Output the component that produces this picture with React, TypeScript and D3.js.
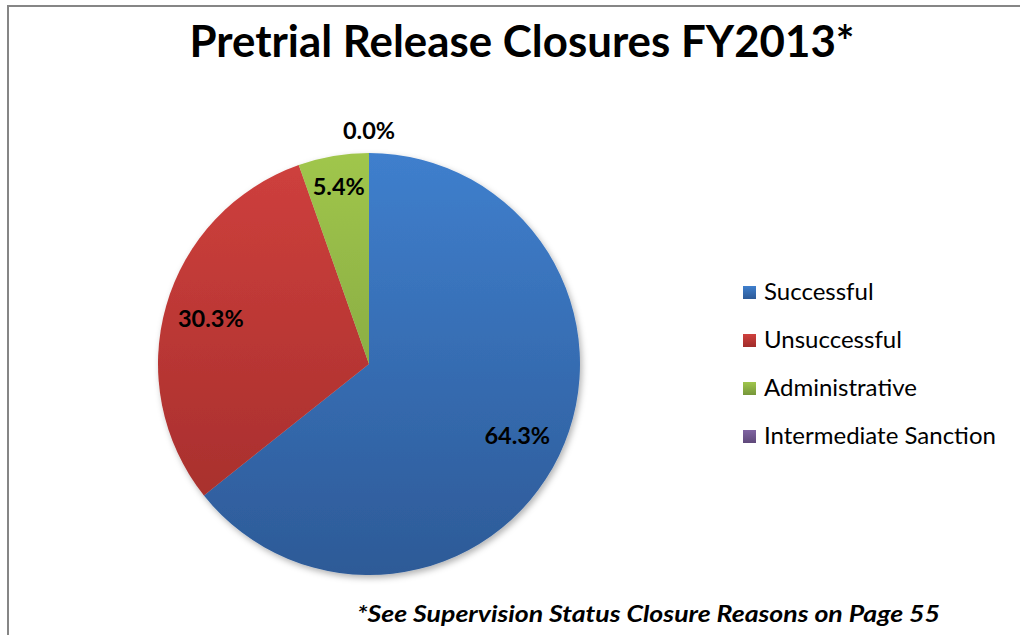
import * as React from 'react'
import * as d3 from 'd3'

const categories = ['Successful', 'Unsuccessful', 'Administrative', 'Intermediate Sanction']
const values = [64.3, 30.3, 5.4, 0.0]
const colorsTop = ['#3f7fcd', '#cf403d', '#a0c64c', '#8064a2']
const colorsBottom = ['#2d5a97', '#a02c2a', '#76963a', '#5f497a']

const W = 1020
const H = 635
const FONT = 'Lato, "Open Sans", sans-serif'

export default function App() {
  const ref = React.useRef<SVGSVGElement>(null)

  React.useEffect(() => {
    document.body.style.margin = '0'
    const svg = d3.select(ref.current)
    svg.selectAll('*').remove()

    const cx = 369
    const cy = 364
    const r = 211

    const defs = svg.append('defs')
    const addGrad = (id: string, i: number, user: boolean) => {
      const gr = defs.append('linearGradient').attr('id', id)
      if (user) {
        gr.attr('gradientUnits', 'userSpaceOnUse').attr('x1', 0).attr('y1', -r).attr('x2', 0).attr('y2', r)
      } else {
        gr.attr('x1', 0).attr('y1', 0).attr('x2', 0).attr('y2', 1)
      }
      gr.append('stop').attr('offset', '0%').attr('stop-color', colorsTop[i])
      gr.append('stop').attr('offset', '100%').attr('stop-color', colorsBottom[i])
    }
    categories.forEach((c, i) => {
      addGrad(`gpie${i}`, i, true)
      addGrad(`gleg${i}`, i, false)
    })

    const f = defs
      .append('filter')
      .attr('id', 'shadow')
      .attr('x', '-10%')
      .attr('y', '-10%')
      .attr('width', '120%')
      .attr('height', '120%')
    f.append('feDropShadow')
      .attr('dx', 2)
      .attr('dy', 3)
      .attr('stdDeviation', 3)
      .attr('flood-color', '#000')
      .attr('flood-opacity', 0.3)

    // frame (right and bottom edges run off the page)
    svg
      .append('rect')
      .attr('x', 8)
      .attr('y', 6)
      .attr('width', W + 20)
      .attr('height', H + 20)
      .attr('fill', '#fff')
      .attr('stroke', '#868686')
      .attr('stroke-width', 2)

    svg
      .append('text')
      .attr('x', 522)
      .attr('y', 57)
      .attr('text-anchor', 'middle')
      .attr('font-family', FONT)
      .attr('font-weight', 'bold')
      .attr('font-size', 44)
      .attr('textLength', 665)
      .attr('lengthAdjust', 'spacingAndGlyphs')
      .attr('fill', '#000')
      .text('Pretrial Release Closures FY2013*')

    const pie = d3
      .pie<number>()
      .sort(null)
      .value((d) => d)
    const arcs = pie(values)
    const arc = d3.arc<d3.PieArcDatum<number>>().innerRadius(0).outerRadius(r)

    const g = svg.append('g').attr('transform', `translate(${cx},${cy})`)
    g.append('g')
      .attr('filter', 'url(#shadow)')
      .selectAll('path')
      .data(arcs)
      .enter()
      .append('path')
      .attr('d', arc)
      .attr('fill', (d, i) => `url(#gpie${i})`)

    const labelPos = (d: d3.PieArcDatum<number>) => {
      const a = (d.startAngle + d.endAngle) / 2
      const frac = (d.endAngle - d.startAngle) / (2 * Math.PI)
      const lr = d.value === 0 ? r + 22 : frac < 0.1 ? r * 0.85 : r * 0.78
      return [lr * Math.sin(a), -lr * Math.cos(a)]
    }

    g.selectAll('text.lbl')
      .data(arcs)
      .enter()
      .append('text')
      .attr('class', 'lbl')
      .attr('x', (d) => labelPos(d)[0])
      .attr('y', (d) => labelPos(d)[1])
      .attr('dy', '0.35em')
      .attr('text-anchor', 'middle')
      .attr('font-family', FONT)
      .attr('font-weight', 'bold')
      .attr('font-size', 23.5)
      .attr('fill', '#000')
      .text((d) => `${d.value.toFixed(1)}%`)

    const ly = d3.scalePoint<string>().domain(categories).range([292, 436])
    const leg = svg
      .append('g')
      .selectAll('g')
      .data(categories)
      .enter()
      .append('g')
      .attr('transform', (d) => `translate(743,${ly(d)})`)
    leg
      .append('rect')
      .attr('x', 0)
      .attr('y', -6)
      .attr('width', 13)
      .attr('height', 13)
      .attr('fill', (d, i) => `url(#gleg${i})`)
    leg
      .append('text')
      .attr('x', 21)
      .attr('y', 0)
      .attr('dy', '0.35em')
      .attr('font-family', FONT)
      .attr('font-size', 24)
      .attr('fill', '#000')
      .text((d) => d)

    svg
      .append('text')
      .attr('x', 357)
      .attr('y', 622)
      .attr('font-family', FONT)
      .attr('font-weight', 'bold')
      .attr('font-style', 'italic')
      .attr('font-size', 22)
      .attr('textLength', 583)
      .attr('lengthAdjust', 'spacingAndGlyphs')
      .attr('fill', '#000')
      .text('*See Supervision Status Closure Reasons on Page 55')
  }, [])

  return <svg ref={ref} width={W} height={H} style={{ display: 'block' }} />
}
